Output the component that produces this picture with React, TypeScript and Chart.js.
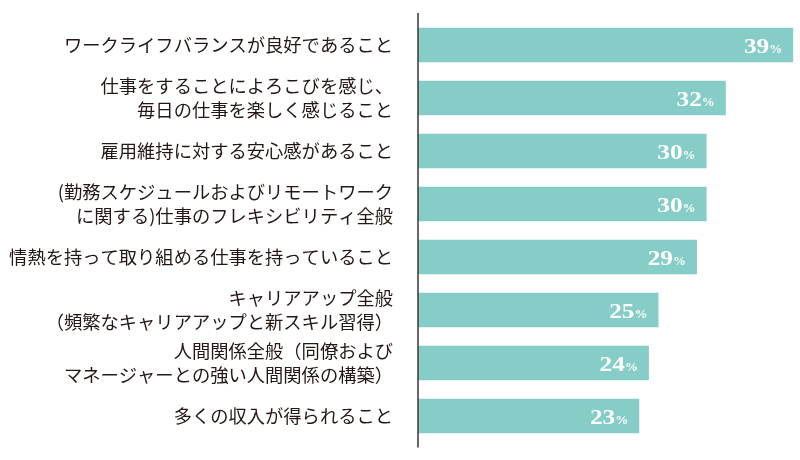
import React, { useEffect, useRef } from "react";
import { Chart, registerables } from "chart.js";

Chart.register(...registerables);

const categories: string[][] = [
  ["ワークライフバランスが良好であること"],
  ["仕事をすることによろこびを感じ、", "毎日の仕事を楽しく感じること"],
  ["雇用維持に対する安心感があること"],
  ["(勤務スケジュールおよびリモートワーク", "に関する)仕事のフレキシビリティ全般"],
  ["情熱を持って取り組める仕事を持っていること"],
  ["キャリアアップ全般", "（頻繁なキャリアアップと新スキル習得）"],
  ["人間関係全般（同僚および", "マネージャーとの強い人間関係の構築）"],
  ["多くの収入が得られること"],
];

const values: number[] = [39, 32, 30, 30, 29, 25, 24, 23];

const BAR_COLOR = "#87cdc7";
const TEXT_COLOR = "#231815";

const valueLabelPlugin = {
  id: "valueLabels",
  afterDatasetsDraw(chart: any) {
    const ctx = chart.ctx;
    const meta = chart.getDatasetMeta(0);
    ctx.save();
    ctx.fillStyle = "#ffffff";
    ctx.textBaseline = "alphabetic";
    ctx.textAlign = "right";
    meta.data.forEach((bar: any, i: number) => {
      const v = values[i];
      const xEnd = bar.x - 11;
      const base = bar.y + 7.5;
      ctx.font = "bold 13px 'Liberation Serif', serif";
      const pw = ctx.measureText("%").width;
      ctx.fillText("%", xEnd, base);
      ctx.save();
      ctx.translate(xEnd - pw, base);
      ctx.scale(1.15, 1);
      ctx.font = "bold 22px 'Liberation Serif', serif";
      ctx.fillText(String(v), 0, 0);
      ctx.restore();
    });
    ctx.restore();
  },
};

const axisLinePlugin = {
  id: "axisLine",
  afterDraw(chart: any) {
    const { ctx, chartArea } = chart;
    ctx.save();
    ctx.strokeStyle = "#3a3432";
    ctx.lineWidth = 1.5;
    ctx.beginPath();
    ctx.moveTo(chartArea.left, chartArea.top - 5.5);
    ctx.lineTo(chartArea.left, chartArea.bottom + 5);
    ctx.stroke();
    ctx.restore();
  },
};

export default function App() {
  const ref = useRef<HTMLCanvasElement>(null);

  useEffect(() => {
    if (!ref.current) return;
    const chart = new Chart(ref.current, {
      type: "bar",
      data: {
        labels: categories,
        datasets: [
          {
            data: values,
            backgroundColor: BAR_COLOR,
            borderWidth: 0,
            barPercentage: 0.65,
            categoryPercentage: 1,
          },
        ],
      },
      options: {
        indexAxis: "y",
        responsive: false,
        animation: false,
        layout: { padding: { top: 18.5, bottom: 17.5, left: 0, right: 2 } },
        plugins: {
          legend: { display: false },
          tooltip: { enabled: false },
        },
        scales: {
          x: {
            display: false,
            min: 0,
            max: 39.5,
          },
          y: {
            afterFit(scale: any) {
              scale.width = 418;
              scale.paddingTop = 0;
              scale.paddingBottom = 0;
            },
            grid: { display: false, drawTicks: false },
            border: { display: false },
            ticks: {
              padding: 25,
              color: TEXT_COLOR,
              font: {
                family: "'Noto Sans CJK JP', sans-serif",
                size: 18.3,
                weight: "normal",
                lineHeight: 1.31,
              },
            },
          },
        },
      },
      plugins: [valueLabelPlugin, axisLinePlugin],
    });
    return () => chart.destroy();
  }, []);

  return (
    <div style={{ position: "fixed", left: 0, top: 0, width: 800, height: 460, background: "#fff" }}>
      <canvas ref={ref} width={800} height={460} style={{ display: "block" }} />
    </div>
  );
}
